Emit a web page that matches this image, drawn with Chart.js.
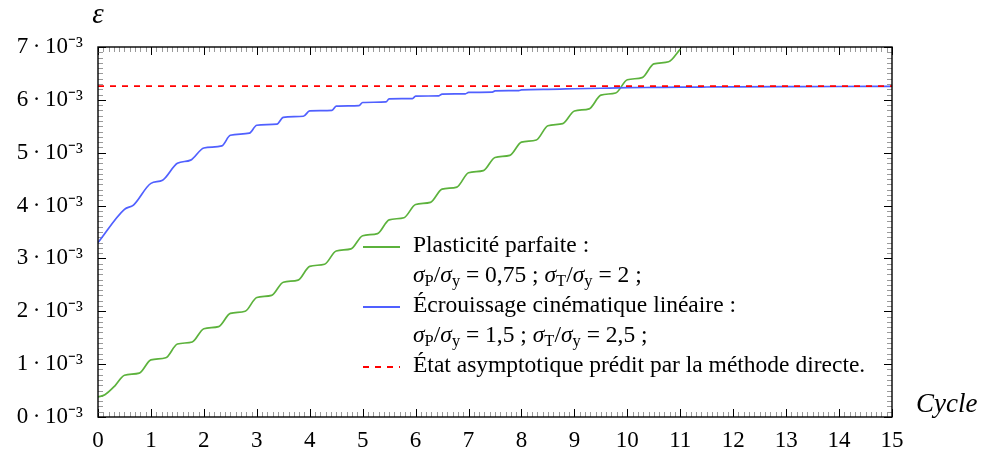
<!DOCTYPE html>
<html>
<head>
<meta charset="utf-8">
<script src="https://cdn.jsdelivr.net/npm/chart.js@4.4.1/dist/chart.umd.min.js"></script>
<style>
  html, body { margin: 0; padding: 0; background: #fff; }
  #wrap { position: relative; width: 983px; height: 453px; }
  #legende {
    position: absolute; left: 363px; top: 229px;
    font-family: 'Liberation Serif', 'Times New Roman', serif;
    font-size: 23.5px; color: #000;
  }
  #legende .ligne { height: 30px; line-height: 30px; white-space: nowrap; }
  #legende .trait { display: inline-block; width: 37px; height: 2px; margin-right: 13px; vertical-align: middle; }
  #legende .note { padding-left: 50px; }
  #legende i { font-style: italic; }
  #legende sub { font-size: 70%; line-height: 0; vertical-align: -0.25em; }
</style>
</head>
<body>
<div id="wrap">
  <canvas id="myChart" width="983" height="453"></canvas>
  <div id="legende"></div>
</div>
<script>
// déformation en 10^-3
const cyclesPlast = [0, 0.13, 0.32, 0.5, 0.78, 1, 1.28, 1.5, 1.78, 2, 2.28, 2.5, 2.78, 3, 3.28, 3.5, 3.78, 4,
  4.28, 4.5, 4.78, 5, 5.28, 5.5, 5.78, 6, 6.28, 6.5, 6.78, 7, 7.28, 7.5, 7.78, 8, 8.28, 8.5, 8.78, 9,
  9.28, 9.5, 9.78, 10, 10.28, 10.5, 10.78, 11];
const epsPlast = [0.38, 0.42, 0.59, 0.79, 0.83, 1.08, 1.12, 1.38, 1.42, 1.67, 1.71, 1.96, 2.00, 2.26, 2.30, 2.55, 2.59, 2.85,
  2.89, 3.14, 3.18, 3.43, 3.47, 3.73, 3.77, 4.02, 4.06, 4.31, 4.35, 4.62, 4.66, 4.91, 4.95, 5.20, 5.24, 5.51, 5.55, 5.79,
  5.83, 6.09, 6.13, 6.38, 6.42, 6.68, 6.72, 6.96];

const cyclesEcr = [0, 0.5, 0.67, 1, 1.22, 1.5, 1.75, 2, 2.34, 2.5, 2.86, 3, 3.38, 3.5, 3.88, 4, 4.42, 4.5, 4.93, 5,
  5.44, 5.5, 5.94, 6, 6.44, 6.5, 6.94, 7, 7.45, 7.5, 7.95, 8, 8.5, 9, 9.5, 10, 10.5, 11, 11.5, 12, 13, 14, 15];
const epsEcr = [3.30, 3.93, 4.01, 4.42, 4.48, 4.80, 4.86, 5.09, 5.13, 5.33, 5.37, 5.52, 5.54, 5.67, 5.69, 5.79, 5.80, 5.88, 5.89, 5.95,
  5.96, 6.02, 6.025, 6.07, 6.075, 6.11, 6.115, 6.14, 6.145, 6.17, 6.175, 6.19, 6.20, 6.21, 6.22, 6.23, 6.235, 6.24, 6.243, 6.246, 6.25, 6.253, 6.255];

const cyclesAsym = [0, 15];
const epsAsym = [6.26, 6.26];

const etiquettes = ['Plasticité parfaite :', 'Écrouissage cinématique linéaire :', 'État asymptotique prédit par la méthode directe.'];
const notes = ['σ_P/σ_y = 0,75 ; σ_T/σ_y = 2 ;', 'σ_P/σ_y = 1,5 ; σ_T/σ_y = 2,5 ;', ''];

const police = "'Liberation Serif', 'Times New Roman', serif";

function points(xs, ys) {
  return xs.map((x, i) => ({ x: x, y: ys[i] }));
}

// cadre + graduations vers l'intérieur sur les 4 côtés
const graduations = {
  id: 'graduations',
  beforeDatasetsDraw(chart) {
    const { ctx, chartArea: a, scales: { x, y } } = chart;
    ctx.save();
    ctx.lineWidth = 1;
    for (let i = 0; i <= 150; i++) {
      const px = Math.round(x.getPixelForValue(i / 10)) + 0.5;
      const maj = i % 10 === 0;
      const l = maj ? 8 : 5;
      ctx.strokeStyle = maj ? '#000' : '#9a9a9a';
      ctx.beginPath();
      ctx.moveTo(px, a.bottom); ctx.lineTo(px, a.bottom - l);
      ctx.moveTo(px, a.top); ctx.lineTo(px, a.top + l);
      ctx.stroke();
    }
    for (let i = 0; i <= 70; i++) {
      const py = Math.round(y.getPixelForValue(i / 10)) + 0.5;
      const maj = i % 10 === 0;
      const l = maj ? 8 : 5;
      ctx.strokeStyle = maj ? '#000' : '#9a9a9a';
      ctx.beginPath();
      ctx.moveTo(a.left, py); ctx.lineTo(a.left + l, py);
      ctx.moveTo(a.right, py); ctx.lineTo(a.right - l, py);
      ctx.stroke();
    }
    ctx.restore();
  },
  afterDatasetsDraw(chart) {
    const { ctx, chartArea: a, scales: { x, y } } = chart;
    ctx.save();
    ctx.strokeStyle = '#000';
    ctx.lineWidth = 1.4;
    ctx.strokeRect(a.left, a.top, a.right - a.left, a.bottom - a.top);
    ctx.fillStyle = '#000';
    ctx.font = 'italic 29px ' + police;
    ctx.textBaseline = 'alphabetic';
    ctx.textAlign = 'center';
    ctx.fillText(y.options.title.text, a.left, a.top - 24);
    ctx.font = 'italic 27px ' + police;
    ctx.textAlign = 'left';
    ctx.fillText(x.options.title.text, a.right + 24, a.bottom - 5);
    ctx.restore();
  }
};

const ctx = document.getElementById('myChart');

const chart = new Chart(ctx, {
  type: 'line',
  data: {
    datasets: [{
      label: etiquettes[0],
      data: points(cyclesPlast, epsPlast),
      borderColor: 'rgb(92, 178, 60)',
      borderWidth: 1.7,
      pointRadius: 0,
      cubicInterpolationMode: 'monotone',
      order: 2
    }, {
      label: etiquettes[1],
      data: points(cyclesEcr, epsEcr),
      borderColor: 'rgb(80, 96, 255)',
      borderWidth: 1.7,
      pointRadius: 0,
      cubicInterpolationMode: 'monotone',
      order: 1
    }, {
      label: etiquettes[2],
      data: points(cyclesAsym, epsAsym),
      borderColor: 'rgb(255, 0, 0)',
      borderWidth: 1.8,
      borderDash: [6, 6],
      pointRadius: 0,
      order: 0
    }]
  },
  options: {
    responsive: false,
    animation: false,
    devicePixelRatio: 1,
    layout: { padding: { top: 47, right: 91, bottom: 0, left: 0 } },
    plugins: { legend: { display: false }, tooltip: { enabled: false } },
    scales: {
      x: {
        type: 'linear',
        min: 0, max: 15,
        title: { display: false, text: 'Cycle' },
        grid: { display: false, drawTicks: false, tickLength: 0 },
        border: { display: false },
        ticks: { stepSize: 1, padding: 10, color: '#000', font: { family: police, size: 23 }, maxRotation: 0 },
        afterFit(s) { s.height = 36; }
      },
      y: {
        min: 0, max: 7,
        title: { display: false, text: 'ε' },
        grid: { display: false, drawTicks: false, tickLength: 0 },
        border: { display: false },
        ticks: {
          stepSize: 1, padding: 15, color: '#000', font: { family: police, size: 23 },
          callback: v => Math.round(v) + '\u2009·\u200910⁻³'
        },
        afterFit(s) { s.width = 98; }
      }
    }
  },
  plugins: [graduations]
});

// légende HTML (indices en vrais indices)
const legende = document.getElementById('legende');
chart.data.datasets.forEach((ds, i) => {
  const fond = ds.borderDash
    ? 'repeating-linear-gradient(to right, ' + ds.borderColor + ' 0 6px, transparent 6px 12px)'
    : ds.borderColor;
  let html = '<div class="ligne"><span class="trait" style="background:' + fond + '"></span>' + ds.label + '</div>';
  if (notes[i]) {
    const n = notes[i].replace(/σ/g, '<i>σ</i>').replace(/_(\w)/g, '<sub>$1</sub>');
    html += '<div class="ligne note">' + n + '</div>';
  }
  legende.insertAdjacentHTML('beforeend', html);
});
</script>
</body>
</html>
